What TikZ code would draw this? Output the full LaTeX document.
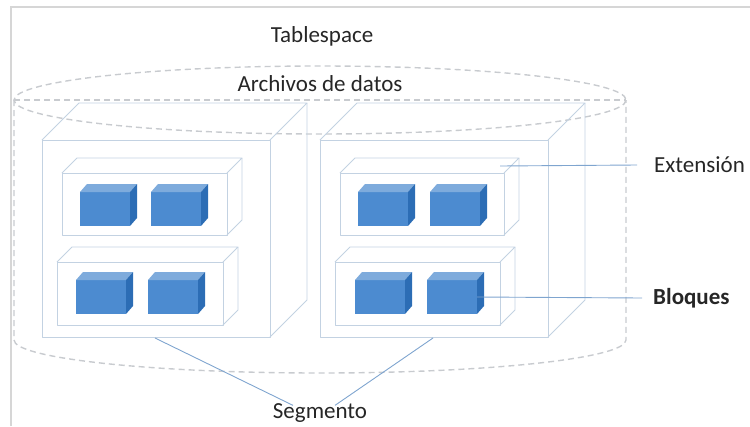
\documentclass[tikz,border=0pt]{standalone}
\usepackage{fontspec}
\setmainfont{Carlito}
\definecolor{frameg}{HTML}{D6D6D6}
\definecolor{dashg}{HTML}{C8CBCF}
\definecolor{edgec}{HTML}{C3D2E2}
\definecolor{leader}{HTML}{7FA5CF}
\definecolor{bfront}{HTML}{4C8BD0}
\definecolor{btop}{HTML}{7EABDC}
\definecolor{bside}{HTML}{2C6DB5}
\definecolor{txt}{HTML}{262626}

% open cuboid: front face, top face and right face
% #1,#2 = front top-left corner, #3 = width, #4 = height, #5 = depth
\newcommand\cuboidbox[5]{%
  \draw[edgeline] (#1,#2) rectangle (#1+#3,#2+#4);
  \draw[edgeline] (#1,#2) -- (#1+#5,#2-#5) -- (#1+#3+#5,#2-#5) -- (#1+#3,#2);
  \draw[edgeline] (#1+#3+#5,#2-#5) -- (#1+#3+#5,#2+#4-#5) -- (#1+#3,#2+#4);
}
% solid blue data block
\newcommand\datablock[2]{%
  \fill[bfront] (#1,#2) rectangle (#1+50,#2+34);
  \fill[btop] (#1,#2) -- (#1+7,#2-8) -- (#1+57,#2-8) -- (#1+50,#2) -- cycle;
  \fill[bside] (#1+50,#2) -- (#1+57,#2-8) -- (#1+57,#2+26) -- (#1+50,#2+34) -- cycle;
}

\tikzset{
  edgeline/.style={draw=edgec, line width=0.9pt, line join=round},
  cyl/.style={draw=dashg, line width=1.4pt, dash pattern=on 6pt off 4pt},
  lead/.style={draw=leader, line width=0.9pt},
  lbl/.style={font=\fontsize{23}{27}\selectfont, text=txt, inner sep=0pt},
}

\begin{document}
\begin{tikzpicture}[x=1pt,y=-1pt]
\useasboundingbox (0,0) rectangle (750,426);

% outer frame
\draw[frameg, line width=1.5pt] (11,426) -- (11,7) -- (750,7);

% tablespace cylinder
\draw[cyl] (320,100) ellipse [x radius=306, y radius=34];
\draw[cyl] (14,100) -- (626,100);
\draw[cyl] (14,100) -- (14,340) arc[start angle=180, end angle=0, x radius=306, y radius=33] -- (626,100);

% data files
\cuboidbox{42}{140}{228}{197}{37}
\cuboidbox{320}{140}{228}{197}{37}

% extents
\cuboidbox{62}{173}{165}{62}{15}
\cuboidbox{57}{262}{166}{63}{15}
\cuboidbox{340}{173}{164}{62}{15}
\cuboidbox{335}{262}{165}{63}{15}

% blocks
\datablock{80}{192}
\datablock{151}{192}
\datablock{76}{280}
\datablock{148}{280}
\datablock{358}{192}
\datablock{430}{192}
\datablock{355}{280}
\datablock{427}{280}

% labels
\node[lbl] (ts) at (322,36) {Tablespace};
\node[lbl] (af) at (320,84) {Archivos de datos};
\node[lbl, anchor=west] (ext) at (654,165) {Extensión};
\node[lbl, anchor=west, font=\fontsize{23}{27}\selectfont\bfseries] (blq) at (653,298) {Bloques};
\node[lbl] (seg) at (320,413) {Segmento};

% leader lines
\coordinate (extA) at (500,166);
\coordinate (blqA) at (477,297);
\coordinate (segA) at (155,338);
\coordinate (segB) at (433,338);
\draw[lead] (extA) -- ([xshift=-17pt]ext.west);
\draw[lead] (blqA) -- ([xshift=-11pt]blq.west);
\draw[lead] (segA) -- ([xshift=-27pt,yshift=-2pt]seg.north);
\draw[lead] (segB) -- ([xshift=15pt,yshift=-2pt]seg.north);
\end{tikzpicture}
\end{document}
